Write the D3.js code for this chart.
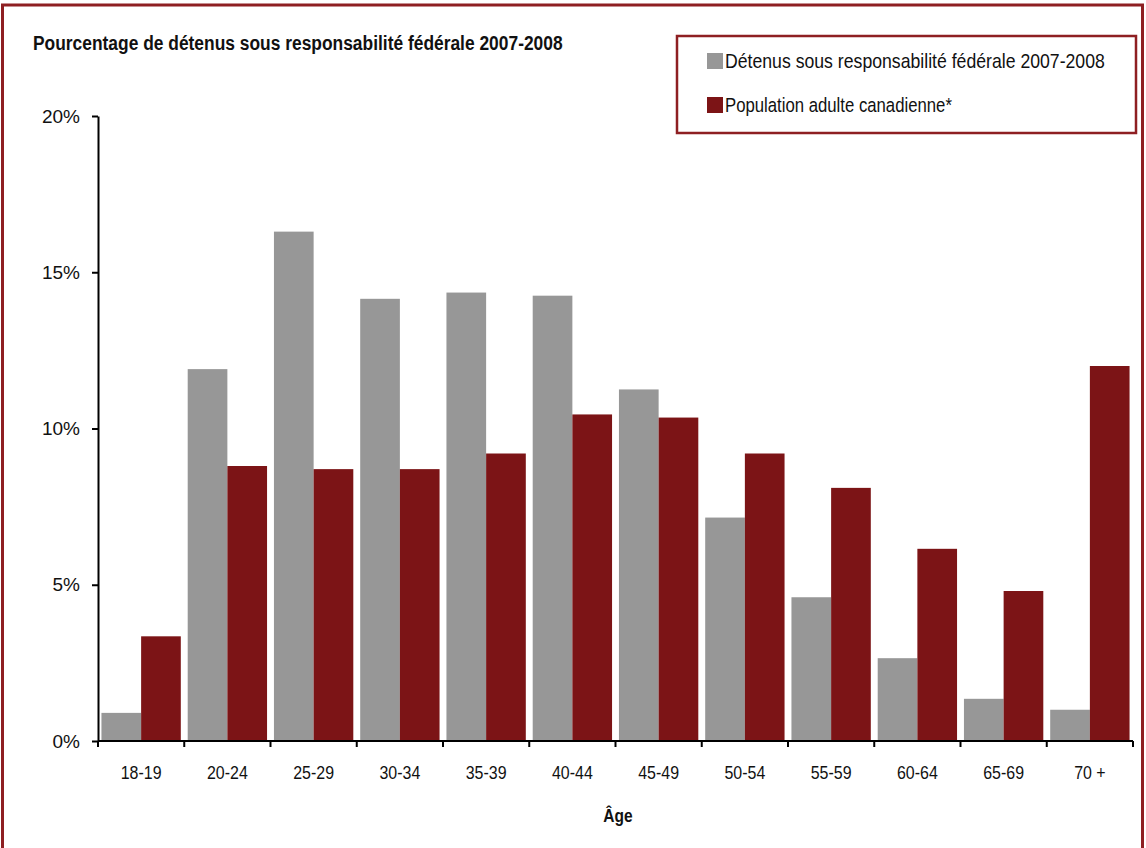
<!DOCTYPE html>
<html>
<head>
<meta charset="utf-8">
<script src="https://cdn.jsdelivr.net/npm/d3@7"></script>
<style>
  html, body { margin: 0; padding: 0; background: #fff; }
  svg { display: block; }
  text { font-family: "Liberation Sans", Arial, sans-serif; fill: #111; }
</style>
</head>
<body>
<svg id="chart" width="1146" height="848"></svg>
<script>
// Age groups and the share of each population falling into them (%)
const categories = ["18-19", "20-24", "25-29", "30-34", "35-39", "40-44", "45-49", "50-54", "55-59", "60-64", "65-69", "70 +"];
const federalOffenders = [0.9, 11.9, 16.3, 14.15, 14.35, 14.25, 11.25, 7.15, 4.6, 2.65, 1.35, 1.0];
const canadianAdults   = [3.35, 8.8, 8.7, 8.7, 9.2, 10.45, 10.35, 9.2, 8.1, 6.15, 4.8, 12.0];
const seriesNames = ["Détenus sous responsabilité fédérale 2007-2008", "Population adulte canadienne*"];
const yTicks = [0, 5, 10, 15, 20];

const colors = ["#979797", "#7c1416"];
const frameColor = "#8e1f22";

const svg = d3.select("#chart");

// Place a text at (px, py) and squeeze it horizontally, either by a factor
// or to a target width, to mimic a narrow typeface.
function placeNarrow(sel, px, py, opts) {
  sel.each(function (d, i) {
    const node = d3.select(this).attr("x", 0).attr("y", 0);
    const len = this.getComputedTextLength();
    const s = opts.width ? opts.width / len : opts.factor;
    const tx = typeof px === "function" ? px(d, i) : px;
    const ty = typeof py === "function" ? py(d, i) : py;
    node.attr("transform", `translate(${tx},${ty}) scale(${s},1)`);
  });
}

// Outer frame
svg.append("rect")
  .attr("x", 2.5).attr("y", 5).attr("width", 1140).attr("height", 860)
  .attr("fill", "none").attr("stroke", frameColor).attr("stroke-width", 3);

// Title
const title = svg.append("text")
  .attr("font-size", 20.5).attr("font-weight", "bold")
  .text("Pourcentage de détenus sous responsabilité fédérale 2007-2008");
placeNarrow(title, 33, 50, { width: 530 });

const plotLeft = 98, plotRight = 1133, plotTop = 116, plotBottom = 741;

const x = d3.scaleBand().domain(categories).range([plotLeft, plotRight])
  .paddingInner(0.08).paddingOuter(0.04);
const xInner = d3.scaleBand().domain([0, 1]).range([0, x.bandwidth()]);
const y = d3.scaleLinear().domain([0, 20]).range([plotBottom, plotTop]);

// Bars
const series = [federalOffenders, canadianAdults];
series.forEach((vals, si) => {
  svg.append("g").selectAll("rect")
    .data(vals)
    .join("rect")
    .attr("x", (d, i) => x(categories[i]) + xInner(si))
    .attr("y", d => y(d))
    .attr("width", xInner.bandwidth())
    .attr("height", d => y(0) - y(d))
    .attr("fill", colors[si]);
});

// Y axis
const yAxis = svg.append("g")
  .attr("transform", `translate(${plotLeft},0)`)
  .call(d3.axisLeft(y).tickValues(yTicks).tickSize(6).tickSizeOuter(0).tickFormat(d => d + "%"));
yAxis.select(".domain").attr("stroke", "#000").attr("stroke-width", 2);
yAxis.selectAll(".tick line").attr("stroke", "#000").attr("stroke-width", 2);
yAxis.selectAll(".tick text")
  .attr("x", -18).attr("font-size", 19)
  .attr("fill", "#111")
  .style("font-family", "\"Liberation Sans\", Arial, sans-serif");

// X axis: line with ticks at category boundaries
const boundaries = categories.map(c => x(c) - x.step() * x.paddingInner() / 2);
boundaries.push(plotRight);
svg.append("line")
  .attr("x1", plotLeft).attr("x2", plotRight).attr("y1", plotBottom).attr("y2", plotBottom)
  .attr("stroke", "#000").attr("stroke-width", 2);
svg.append("g").selectAll("line")
  .data(boundaries)
  .join("line")
  .attr("x1", d => d).attr("x2", d => d)
  .attr("y1", plotBottom).attr("y2", plotBottom + 6)
  .attr("stroke", "#000").attr("stroke-width", 2);

// Category labels
const catLabels = svg.append("g").selectAll("text")
  .data(categories)
  .join("text")
  .attr("text-anchor", "middle")
  .attr("font-size", 19)
  .text(d => d);
placeNarrow(catLabels, d => x(d) + x.bandwidth() / 2, 779, { factor: 0.84 });

// Axis title
const ageTitle = svg.append("text")
  .attr("text-anchor", "middle")
  .attr("font-size", 18.5).attr("font-weight", "bold")
  .text("Âge");
placeNarrow(ageTitle, 618, 822, { factor: 0.84 });

// Legend
const legend = svg.append("g");
legend.append("rect")
  .attr("x", 677).attr("y", 36).attr("width", 459).attr("height", 97)
  .attr("fill", "#fff").attr("stroke", frameColor).attr("stroke-width", 2.5);
const legendRows = [{ y: 61, w: 380 }, { y: 105, w: 227 }];
seriesNames.forEach((name, i) => {
  legend.append("rect")
    .attr("x", 707).attr("y", legendRows[i].y - 8)
    .attr("width", 16).attr("height", 16)
    .attr("fill", colors[i]);
  const t = legend.append("text")
    .attr("font-size", 20.5)
    .text(name);
  placeNarrow(t, 725, legendRows[i].y + 7, { width: legendRows[i].w });
});
</script>
</body>
</html>
